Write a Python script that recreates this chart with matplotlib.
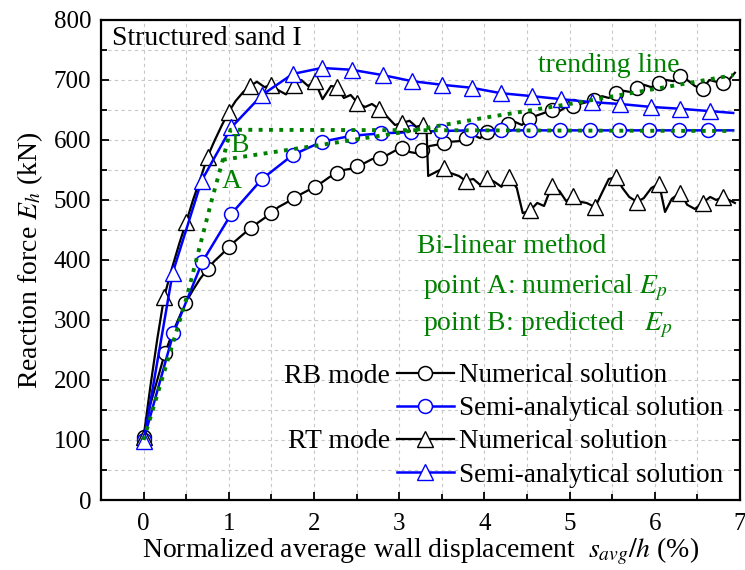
import matplotlib
matplotlib.use('Agg')
import matplotlib.pyplot as plt
from matplotlib.ticker import MultipleLocator

plt.rcParams['font.family'] = ['Liberation Serif', 'DejaVu Serif']
plt.rcParams['mathtext.fontset'] = 'stix'

# RB mode, numerical (noisy FE curve; every 3rd point carries a marker)
rb_num_x = [0, 0.08, 0.17, 0.25, 0.33, 0.41, 0.49, 0.58, 0.66, 0.75, 0.83, 0.92,
            1.0, 1.08, 1.17, 1.26, 1.34, 1.42, 1.50, 1.58, 1.67, 1.76, 1.85, 1.93,
            2.01, 2.10, 2.18, 2.27, 2.35, 2.43, 2.51, 2.60, 2.68, 2.77, 2.86, 2.95,
            3.03, 3.12, 3.20, 3.27, 3.36, 3.44, 3.52, 3.60, 3.70, 3.78, 3.87, 3.95,
            4.03, 4.12, 4.20, 4.28, 4.36, 4.44, 4.52, 4.60, 4.70, 4.79, 4.88, 4.96,
            5.04, 5.12, 5.20, 5.29, 5.38, 5.46, 5.55, 5.63, 5.71, 5.79, 5.87, 5.96,
            6.05, 6.13, 6.22, 6.30, 6.38, 6.47, 6.56, 6.64, 6.72, 6.80, 6.87, 6.94]
rb_num_y = [105, 160, 205, 245, 275, 302, 328, 350, 368, 385, 398, 410,
            422, 432, 443, 453, 462, 470, 478, 488, 495, 503, 510, 516,
            522, 530, 538, 545, 550, 552, 557, 562, 568, 570, 575, 582,
            587, 580, 578, 583, 590, 592, 595, 597, 598, 603, 608, 603,
            613, 615, 622, 627, 630, 625, 635, 640, 645, 650, 648, 655,
            657, 660, 663, 667, 673, 670, 678, 682, 680, 687, 692, 688,
            695, 700, 698, 707, 700, 690, 685, 700, 697, 695, 700, 712]

# RB mode, semi-analytical
rb_semi_x = [0, 0.35, 0.69, 1.03, 1.39, 1.75, 2.09, 2.44, 2.79, 3.14, 3.49,
             3.84, 4.19, 4.54, 4.89, 5.24, 5.58, 5.93, 6.28, 6.63, 6.92]
rb_semi_y = [100, 278, 397, 477, 535, 575, 597, 607, 611, 613, 615,
             616, 616, 616, 616, 616, 616, 616, 616, 616, 616]

# RT mode, numerical (noisy FE curve; every 3rd point carries a marker)
rt_num_x = [0, 0.08, 0.16, 0.24, 0.33, 0.42, 0.50, 0.58, 0.67, 0.75, 0.83, 0.92,
            1.0, 1.08, 1.17, 1.25, 1.33, 1.42, 1.50, 1.58, 1.67, 1.76, 1.85, 1.93,
            2.01, 2.10, 2.20, 2.27, 2.35, 2.43, 2.51, 2.60, 2.68, 2.76, 2.85, 2.95,
            3.03, 3.12, 3.20, 3.28, 3.32, 3.34, 3.52, 3.60, 3.70, 3.78, 3.87, 3.95,
            4.03, 4.12, 4.20, 4.29, 4.38, 4.45, 4.54, 4.62, 4.70, 4.79, 4.88, 4.96,
            5.04, 5.12, 5.20, 5.30, 5.38, 5.46, 5.55, 5.62, 5.70, 5.79, 5.87, 5.96,
            6.05, 6.12, 6.20, 6.30, 6.38, 6.47, 6.56, 6.65, 6.72, 6.80, 6.87, 6.94]
rt_num_y = [105, 190, 268, 338, 385, 428, 463, 500, 537, 572, 598, 625,
            647, 665, 680, 690, 697, 688, 692, 683, 676, 692, 700, 690,
            698, 668, 690, 688, 670, 675, 662, 655, 660, 652, 640, 625,
            628, 632, 622, 625, 620, 540, 553, 545, 540, 532, 535, 525,
            537, 530, 522, 538, 520, 478, 483, 495, 490, 523, 515, 498,
            507, 497, 495, 488, 512, 535, 538, 520, 505, 497, 503, 520,
            527, 480, 502, 512, 492, 485, 495, 505, 500, 505, 500, 495]

# RT mode, semi-analytical
rt_semi_x = [0, 0.34, 0.68, 1.03, 1.39, 1.75, 2.09, 2.44, 2.81, 3.15, 3.50, 3.85,
             4.19, 4.56, 4.90, 5.26, 5.59, 5.96, 6.30, 6.65, 6.92]
rt_semi_y = [98, 378, 532, 621, 675, 710, 720, 717, 708, 698, 692, 687,
             678, 673, 668, 663, 660, 655, 652, 648, 645]

# bi-linear construction (green dotted)
bl_x = [0, 0.50, 0.80, 0.93, 1.02, 6.92]
bl_y = [100, 335, 500, 567, 617, 615]
trend_x = [0.93, 2.0, 3.0, 4.0, 5.0, 6.0, 6.92]
trend_y = [567, 590, 612, 637, 660, 685, 708]

blue = '#0000ff'
green = '#008000'
fs = 20

fig = plt.figure(figsize=(7.45, 5.70), dpi=100)
ax = fig.add_axes([0.1356, 0.1228, 0.8577, 0.8422])

ax.plot(bl_x, bl_y, ':', color=green, lw=2.8, zorder=4)
ax.plot(trend_x, trend_y, ':', color=green, lw=2.8, zorder=4)

h1, = ax.plot(rb_num_x, rb_num_y, '-', color='black', lw=1.6, marker='o', ms=10,
              mfc='white', mec='black', mew=1.1, markevery=3, zorder=3,
              label='Numerical solution')
h2, = ax.plot(rb_semi_x, rb_semi_y, '-', color=blue, lw=1.8, marker='o', ms=10,
              mfc='white', mec=blue, mew=1.1, markevery=slice(0, 20), zorder=3,
              label='Semi-analytical solution')
h3, = ax.plot(rt_num_x, rt_num_y, '-', color='black', lw=1.6, marker='^', ms=11,
              mfc='white', mec='black', mew=1.0, markevery=3, zorder=3,
              label='Numerical solution')
h4, = ax.plot(rt_semi_x, rt_semi_y, '-', color=blue, lw=1.8, marker='^', ms=11,
              mfc='white', mec=blue, mew=1.0, markevery=slice(0, 20), zorder=3,
              label='Semi-analytical solution')

ax.set_xlim(-0.5, 7.0)
ax.set_ylim(0, 800)
ax.xaxis.set_major_locator(MultipleLocator(1))
ax.xaxis.set_minor_locator(MultipleLocator(0.5))
ax.yaxis.set_major_locator(MultipleLocator(100))
ax.yaxis.set_minor_locator(MultipleLocator(50))
ax.grid(True, which='both', color='#c8c8c8', linestyle=(0, (3, 3)), lw=0.8)
ax.set_axisbelow(True)
ax.tick_params(which='both', direction='in', right=True, labelsize=18, width=1.3)
ax.tick_params(axis='x', which='both', pad=9)
ax.tick_params(axis='y', which='both', pad=7)
ax.tick_params(which='major', length=6)
ax.tick_params(which='minor', length=4)
for s in ax.spines.values():
    s.set_linewidth(1.6)

ax.set_xlabel(r'Normalized average wall displacement  $s_{avg}/h$ (%)', fontsize=fs, labelpad=1)
ax.set_ylabel(r'Reaction force $E_h$ (kN)', fontsize=fs, labelpad=6)

ax.text(-0.376, 758, 'Structured sand I', fontsize=fs)
ax.text(4.63, 713, 'trending line', fontsize=fs, color=green)
ax.text(1.03, 530, 'A', fontsize=fs, color=green, ha='center', va='center')
ax.text(1.12, 590, 'B', fontsize=fs, color=green, ha='center', va='center')
ax.text(3.21, 412, 'Bi-linear method', fontsize=fs, color=green)
ax.text(3.28, 345, r'point A: numerical $E_p$', fontsize=fs, color=green)
ax.text(3.28, 283, r'point B: predicted   $E_p$', fontsize=fs, color=green)

ax.text(2.89, 206, 'RB mode', fontsize=fs, ha='right', va='center')
ax.text(2.89, 97, 'RT mode', fontsize=fs, ha='right', va='center')

ax.legend(handles=[h1, h2, h3, h4], loc='upper left', bbox_to_anchor=(2.97, 228),
          bbox_transform=ax.transData, frameon=False, fontsize=19.5, numpoints=1,
          handlelength=2.1, handletextpad=0.2, labelspacing=0.3,
          borderpad=0, borderaxespad=0)

fig.savefig('out.png', dpi=100)
